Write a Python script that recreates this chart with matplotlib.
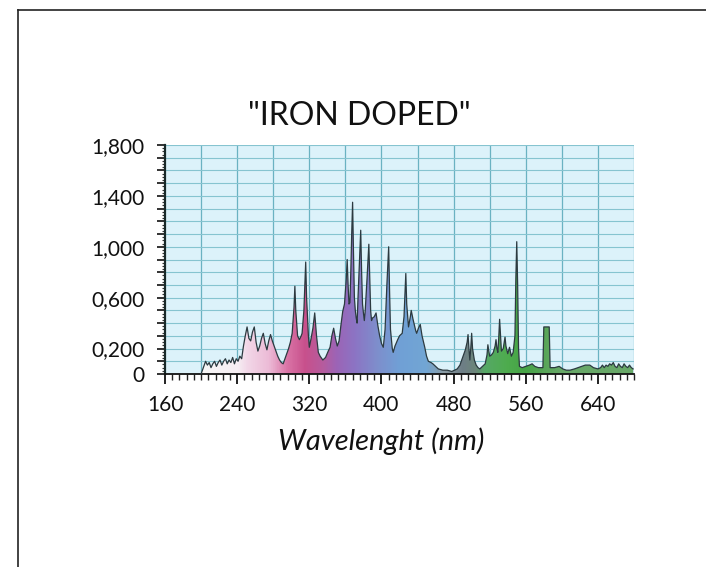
import numpy as np
import matplotlib
matplotlib.use("Agg")
import matplotlib.pyplot as plt
from matplotlib.colors import LinearSegmentedColormap
from matplotlib.lines import Line2D

plt.rcParams['font.family'] = ['Lato', 'DejaVu Sans']

# ---- data ----
wavelength = [200, 203, 205, 207, 209, 211, 213, 215, 217, 219, 221, 223, 225, 227, 229, 231, 233, 235, 237, 239,
              241, 243, 245, 247, 249, 251, 253, 255, 257, 259, 261, 263, 265, 267, 269, 271, 273, 275, 277, 279,
              281, 283, 285, 287, 289, 291, 293, 295, 297, 299, 301, 303, 304, 305, 307, 309, 311, 312, 314, 316,
              317, 319, 320, 322, 324, 326, 328, 330, 332, 335, 338, 341, 343, 345, 347, 349, 351, 353, 355, 357,
              359, 361, 362, 363, 364, 365, 366, 367, 368, 369, 370, 371, 372, 373, 374, 376, 377, 378, 379, 380,
              381, 382, 384, 386, 387, 388, 389, 390, 392, 394, 396, 398, 400, 402, 404, 406, 407, 408, 409, 410,
              412, 413, 415, 418, 420, 423, 425, 427, 428, 430, 432, 433, 435, 436, 438, 439, 441, 443, 445, 448,
              450, 452, 455, 457, 460, 463, 468, 473, 478, 484, 487, 489, 491, 493, 495, 496, 497, 498, 499, 500,
              501, 503, 505, 507, 509, 512, 515, 517, 518, 519, 520, 522, 524, 526, 527, 528, 529, 530, 531, 532,
              533, 535, 537, 538, 540, 542, 544, 546, 548, 549, 550, 551, 552, 553, 556, 560, 564, 567, 570, 574,
              579, 580, 586, 587, 592, 597, 601, 605, 609, 614, 618, 622, 626, 631, 635, 640, 643, 645, 647, 649,
              651, 653, 655, 657, 659, 661, 663, 665, 667, 669, 671, 673, 675, 677, 679]
intensity = [0.00, 0.06, 0.10, 0.07, 0.09, 0.05, 0.08, 0.10, 0.06, 0.09, 0.11, 0.07, 0.10, 0.12, 0.08, 0.11, 0.09, 0.13, 0.08, 0.12,
             0.10, 0.14, 0.12, 0.22, 0.30, 0.37, 0.28, 0.26, 0.33, 0.37, 0.25, 0.18, 0.22, 0.28, 0.32, 0.24, 0.19, 0.26, 0.31, 0.26,
             0.22, 0.18, 0.14, 0.11, 0.09, 0.08, 0.12, 0.16, 0.20, 0.25, 0.32, 0.52, 0.69, 0.50, 0.30, 0.27, 0.30, 0.32, 0.50, 0.88,
             0.60, 0.30, 0.21, 0.28, 0.36, 0.48, 0.30, 0.17, 0.14, 0.11, 0.13, 0.18, 0.21, 0.30, 0.36, 0.28, 0.22, 0.26, 0.38, 0.49,
             0.55, 0.75, 0.90, 0.70, 0.55, 0.56, 0.80, 1.10, 1.35, 0.95, 0.60, 0.50, 0.44, 0.40, 0.60, 0.95, 1.13, 0.80, 0.55, 0.48,
             0.42, 0.50, 0.75, 1.02, 0.75, 0.50, 0.42, 0.44, 0.45, 0.48, 0.38, 0.30, 0.24, 0.21, 0.35, 0.70, 0.85, 1.00, 0.65, 0.35,
             0.20, 0.17, 0.22, 0.27, 0.30, 0.32, 0.45, 0.79, 0.55, 0.37, 0.45, 0.50, 0.43, 0.40, 0.34, 0.32, 0.36, 0.39, 0.30, 0.21,
             0.14, 0.10, 0.09, 0.08, 0.06, 0.04, 0.03, 0.03, 0.02, 0.04, 0.07, 0.11, 0.15, 0.19, 0.25, 0.31, 0.20, 0.11, 0.20, 0.32,
             0.20, 0.11, 0.07, 0.05, 0.04, 0.06, 0.08, 0.15, 0.23, 0.18, 0.14, 0.15, 0.17, 0.22, 0.27, 0.20, 0.17, 0.28, 0.43, 0.30,
             0.18, 0.20, 0.29, 0.22, 0.16, 0.21, 0.14, 0.17, 0.30, 0.75, 1.04, 0.70, 0.20, 0.06, 0.05, 0.06, 0.07, 0.08, 0.06, 0.05,
             0.05, 0.37, 0.37, 0.05, 0.05, 0.06, 0.04, 0.03, 0.03, 0.04, 0.05, 0.06, 0.07, 0.07, 0.05, 0.04, 0.05, 0.07, 0.05, 0.07,
             0.06, 0.08, 0.07, 0.09, 0.06, 0.05, 0.08, 0.06, 0.05, 0.08, 0.06, 0.05, 0.07, 0.05, 0.04]

title = '"IRON DOPED"'
xlabel = 'Wavelenght (nm)'
x_label_ticks = [160, 240, 320, 400, 480, 560, 640]
y_label_ticks = [0, 0.2, 0.6, 1.0, 1.4, 1.8]
y_label_text = ['0', '0,200', '0,600', '1,000', '1,400', '1,800']

# ---- styling ----
wl = np.array(wavelength, dtype=float)
val = np.array(intensity, dtype=float)

fig = plt.figure(figsize=(7.06, 5.67), dpi=100)
fig.patch.set_facecolor('white')
ax = fig.add_axes([165/706, 1 - 374/567, (634-165)/706, (374-145)/567])
ax.set_facecolor('#dcf2fa')
ax.set_xlim(160, 680)
ax.set_ylim(0, 1.8)

# grid
for gx in np.arange(200, 681, 40):
    ax.axvline(gx, color='#6ab2c2', lw=0.9, zorder=1)
for gy in np.arange(0.1, 1.81, 0.1):
    ax.axhline(gy, color='#86c4d0', lw=0.8, zorder=1)

# gradient fill under spectrum
stops = [(200, '#f6f6f6'), (240, '#f6eef3'), (250, '#f2d8e8'), (275, '#ecbad6'),
         (295, '#da74a6'), (315, '#c8508c'), (335, '#b65c9e'), (350, '#9c64b6'),
         (370, '#8c74c4'), (395, '#7e8ecc'), (420, '#70a0d6'), (450, '#72a6d4'),
         (470, '#8c9ca4'), (490, '#6e7e86'), (505, '#6c867a'), (515, '#56a866'),
         (540, '#4eac4e'), (560, '#46a446'), (600, '#68a868'), (680, '#68a868')]
lo, hi = 160, 680
cmap = LinearSegmentedColormap.from_list(
    'spec', [((w - lo) / (hi - lo), c) for w, c in [(160, '#f6f6f6')] + stops])
grad = np.linspace(0, 1, 1200).reshape(1, -1)
poly = ax.fill_between(wl, 0, val, facecolor='none', edgecolor='none', zorder=2)
im = ax.imshow(grad, extent=[lo, hi, 0, 1.8], aspect='auto', cmap=cmap,
               origin='lower', zorder=2, interpolation='bilinear')
im.set_clip_path(poly.get_paths()[0], transform=ax.transData)
ax.plot(wl, val, color='#2c3a40', lw=0.9, zorder=3)

# spines / ticks
for s in ['top', 'right']:
    ax.spines[s].set_visible(False)
ax.spines['left'].set_linewidth(1.6)
ax.spines['left'].set_color('#1a2a2a')
ax.spines['bottom'].set_linewidth(1.3)
ax.spines['bottom'].set_color('#111111')

ax.set_xticks(x_label_ticks)
ax.set_xticklabels([str(v) for v in x_label_ticks])
ax.set_xticks(np.arange(160, 681, 8), minor=True)
ax.tick_params(axis='x', which='major', length=7, width=1.3, direction='out',
               labelsize=15, pad=8, colors='#111111')
ax.tick_params(axis='x', which='minor', length=4, width=1.0, direction='out', colors='#222222')

yt = np.round(np.arange(0, 1.81, 0.1), 2)
ax.set_yticks(yt)
ax.set_yticklabels([y_label_text[y_label_ticks.index(v)] if v in y_label_ticks else '' for v in yt])
ax.set_yticks(np.arange(0, 1.81, 0.025), minor=True)
ax.tick_params(axis='y', which='major', length=6, width=1.2, direction='out',
               labelsize=15, pad=9, colors='#111111')
ax.tick_params(axis='y', which='minor', length=2.5, width=0.8, direction='out', colors='#333333')
for lbl in ax.get_xticklabels() + ax.get_yticklabels():
    lbl.set_color('#111111')

fig.text(381/706, 1 - 450/567, xlabel, fontsize=21, fontstyle='italic',
         ha='center', va='baseline', color='#111111')

fig.text(359/706, 1 - 125/567, title, fontsize=23, ha='center', va='baseline', color='#111111')

# page frame
fig.add_artist(Line2D([18/706, 1.0], [1 - 10/567, 1 - 10/567], color='#222222', lw=1.2))
fig.add_artist(Line2D([18/706, 18/706], [0.0, 1 - 10/567], color='#222222', lw=1.2))

fig.savefig('out.png', dpi=100)
